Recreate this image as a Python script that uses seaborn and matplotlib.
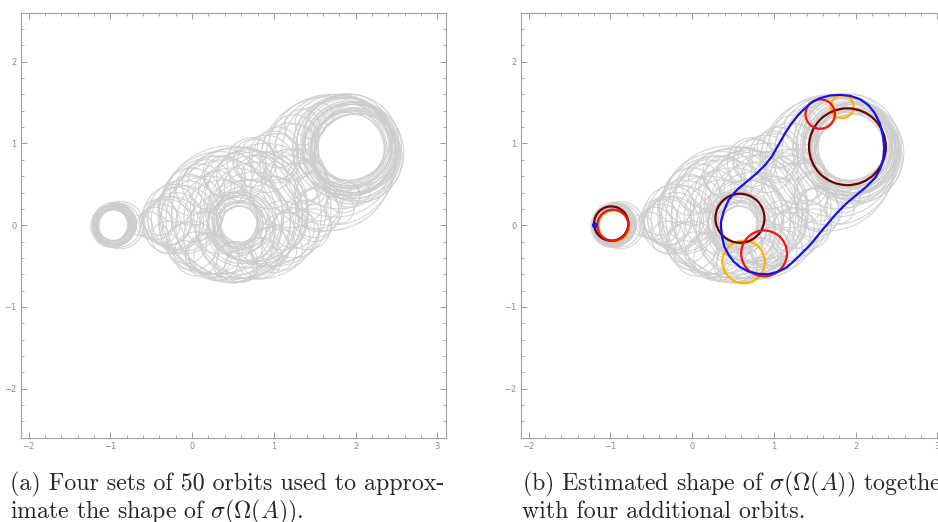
import numpy as np
import pandas as pd
import matplotlib
matplotlib.use("Agg")
import matplotlib.pyplot as plt
from matplotlib.patches import Circle
from matplotlib.ticker import MultipleLocator
import seaborn as sns

# gray orbits, four sets (centre x, centre y, radius)
# set 1: left ring and neck
set1_cx = [-0.965, -0.97, -0.96, -0.98, -0.95, -0.99, -0.94, -0.97, -0.96, -0.95, -0.98, -0.93, -1.0, -0.92,
           -0.9, -0.88, -0.62, -0.52, -0.45, -0.38, -0.3, -0.2, -0.1, -0.3, -0.25, -0.2, -0.1, 0.0,
           -0.4, -0.2, -0.3, 0.1, -0.965, -0.96, -0.97, -0.955, -0.975, -0.96, -0.965, -0.945,
           -0.025, -0.07, 0.18]
set1_cy = [0.0, 0.01, -0.01, 0.02, -0.02, 0.0, 0.01, -0.03, 0.03, 0.0, -0.01, 0.02, 0.01, -0.01,
           0.0, 0.0, 0.0, 0.0, 0.02, 0.02, 0.04, 0.06, 0.08, 0.05, 0.0, 0.1, 0.1, 0.2,
           0.1, 0.25, -0.15, 0.45, 0.0, 0.0, 0.0, 0.01, -0.01, -0.02, 0.02, 0.0,
           0.37, -0.22, 0.5]
set1_r = [0.19, 0.2, 0.21, 0.22, 0.22, 0.23, 0.24, 0.24, 0.25, 0.26, 0.26, 0.25, 0.21, 0.22,
          0.27, 0.29, 0.13, 0.16, 0.2, 0.24, 0.28, 0.34, 0.4, 0.3, 0.35, 0.4, 0.45, 0.4,
          0.22, 0.22, 0.2, 0.3, 0.185, 0.2, 0.23, 0.245, 0.25, 0.235, 0.215, 0.255,
          0.25, 0.25, 0.3]

# set 2: around the middle hole
set2_cx = [0.575, 0.57, 0.59, 0.56, 0.6, 0.55, 0.62, 0.6, 0.65, 0.58, 0.7, 0.75, 0.65, 0.8,
           0.2, 0.3, 0.85, 0.55, 0.0, 1.0, 0.35, 0.2, 0.45, 0.3, 0.6, 0.3, 0.0,
           0.3, 0.35, 0.4, 0.45, 0.55, 0.75, 0.05, 0.6, 0.4,
           0.58, 0.57, 0.59, 0.6, 0.2, 0.51, 0.8, 0.43, 0.73]
set2_cy = [0.01, 0.02, 0.0, 0.04, 0.03, -0.02, 0.05, -0.05, 0.02, -0.1, 0.05, 0.1, -0.05, 0.15,
           -0.35, 0.45, -0.4, -0.45, -0.25, 0.3, 0.1, 0.0, -0.15, -0.4, 0.6, 0.5, 0.35,
           0.12, 0.15, 0.08, 0.15, 0.15, 0.2, -0.35, -0.5, 0.6,
           0.0, 0.03, -0.03, 0.06, -0.37, -0.46, -0.405, 0.63, 0.77]
set2_r = [0.22, 0.25, 0.28, 0.3, 0.33, 0.36, 0.38, 0.42, 0.45, 0.5, 0.5, 0.55, 0.6, 0.62,
          0.25, 0.22, 0.25, 0.25, 0.3, 0.3, 0.45, 0.6, 0.55, 0.28, 0.3, 0.35, 0.35,
          0.72, 0.75, 0.72, 0.82, 0.8, 0.65, 0.27, 0.2, 0.25,
          0.24, 0.27, 0.32, 0.35, 0.28, 0.25, 0.25, 0.3, 0.3]

# set 3: around the right hole
set3_cx = [1.95, 1.94, 1.96, 1.92, 1.98, 1.9, 2.0, 1.95, 1.88, 1.93, 1.97, 1.85, 1.8, 1.75, 1.7, 1.65,
           1.35, 1.55, 1.3, 1.2, 1.85, 2.02, 1.9, 1.82, 2.02, 2.03, 1.9, 1.98, 2.0, 1.45,
           1.93, 1.96, 1.91, 1.99, 1.92, 1.86, 1.58, 2.055]
set3_cy = [0.95, 0.96, 0.94, 0.98, 0.92, 1.0, 0.95, 0.9, 0.96, 1.0, 0.88, 0.95, 0.9, 0.85, 0.8, 0.75,
           1.2, 0.35, 0.6, 0.5, 0.35, 0.98, 0.93, 1.0, 0.85, 0.82, 1.08, 0.9, 0.85, 0.45,
           0.97, 0.93, 0.99, 0.94, 0.93, 0.97, 1.34, 0.404]
set3_r = [0.41, 0.44, 0.47, 0.5, 0.52, 0.55, 0.56, 0.58, 0.6, 0.6, 0.62, 0.62, 0.7, 0.75, 0.8, 0.82,
          0.22, 0.3, 0.34, 0.35, 0.2, 0.5, 0.45, 0.58, 0.52, 0.54, 0.53, 0.53, 0.55, 0.2,
          0.43, 0.49, 0.53, 0.54, 0.57, 0.59, 0.15, 0.12]

# set 4: body between the holes and along the edges
set4_cx = [1.2, 1.0, 0.9, 0.8, 0.7, 0.55, 0.9, 1.2, 1.25, 1.5, 1.1, 1.4, 1.0, 0.95, 1.4, 1.05, 0.7, 0.5,
           1.0, 1.25, 1.45, 0.75, 0.945, 1.245, 1.545, 1.907, 1.1, 1.5, 1.8,
           1.03, 1.27, 1.14, 1.556]
set4_cy = [0.45, 0.2, 0.25, 0.12, 0.2, 0.15, 0.75, 0.9, -0.1, 0.15, 0.0, 0.0, -0.3, 0.55, 0.55, 0.95, 0.75, 0.0,
           0.85, 1.05, 1.25, 0.8, -0.274, -0.034, 0.206, 0.368, -0.3, 0.0, 0.2,
           0.82, 0.99, -0.14, 0.198]
set4_r = [0.48, 0.7, 0.75, 0.78, 0.72, 0.8, 0.35, 0.35, 0.3, 0.3, 0.3, 0.3, 0.28, 0.35, 0.25, 0.25, 0.2, 0.7,
          0.3, 0.3, 0.19, 0.25, 0.25, 0.25, 0.25, 0.15, 0.25, 0.2, 0.18,
          0.3, 0.25, 0.3, 0.28]

# four extra orbits in panel (b)
orbit_colors = ["#ffb300", "#6e0000", "#f01414", "#1414e6"]
orbit_cx = [[-0.96, 0.63, 1.835], [-0.99, 0.585, 1.9], [-0.97, 0.88, 1.567], [-1.19]]
orbit_cy = [[-0.01, -0.45, 1.45], [0.02, 0.085, 0.96], [0.0, -0.345, 1.36], [0.0]]
orbit_r = [[0.19, 0.26, 0.14], [0.21, 0.3, 0.47], [0.19, 0.28, 0.18], [0.022]]

# estimated shape of sigma(Omega(A))
shape_x = [0.353, 0.365, 0.394, 0.447, 0.508, 0.589, 0.691, 0.813, 0.935, 1.056, 1.158, 1.26, 1.341,
           1.443, 1.544, 1.646, 1.768, 1.89, 2.012, 2.134, 2.235, 2.296, 2.337, 2.349, 2.337, 2.296,
           2.235, 2.154, 2.053, 1.93, 1.808, 1.687, 1.565, 1.463, 1.382, 1.3, 1.219, 1.138, 1.056,
           0.975, 0.894, 0.792, 0.67, 0.548, 0.447, 0.386, 0.353, 0.353]
shape_y = [-0.017, -0.139, -0.262, -0.364, -0.445, -0.514, -0.567, -0.596, -0.6, -0.567, -0.514, -0.425,
           -0.343, -0.241, -0.119, 0.004, 0.146, 0.269, 0.371, 0.473, 0.575, 0.677, 0.799, 0.942, 1.085,
           1.248, 1.37, 1.472, 1.542, 1.583, 1.595, 1.587, 1.554, 1.501, 1.432, 1.35, 1.248, 1.126, 0.983,
           0.84, 0.738, 0.636, 0.534, 0.432, 0.31, 0.167, 0.044, -0.017]

x_ticks = [-2, -1, 0, 1, 2, 3]
y_ticks = [-2, -1, 0, 1, 2]

sns.set_style("white")
plt.rcParams["mathtext.fontset"] = "cm"

W, H = 938, 522
fig = plt.figure(figsize=(W / 100, H / 100), dpi=100)
ax_a = fig.add_axes([20 / W, (H - 437.7) / H, 426 / W, 425 / H])
ax_b = fig.add_axes([520 / W, (H - 437.7) / H, 426 / W, 425 / H])

gray_sets = [(set1_cx, set1_cy, set1_r), (set2_cx, set2_cy, set2_r),
             (set3_cx, set3_cy, set3_r), (set4_cx, set4_cy, set4_r)]


def draw_gray(ax):
    for cxs, cys, rs in gray_sets:
        for cx, cy, r in zip(cxs, cys, rs):
            ax.add_patch(Circle((cx, cy), r, fill=False, ec="#cdcdcd", lw=0.8, alpha=0.85))


def style_axes(ax):
    ax.set_xlim(-2.1, 3.1)
    ax.set_ylim(-2.6, 2.6)
    ax.set_aspect("equal", adjustable="box")
    ax.xaxis.set_minor_locator(MultipleLocator(0.2))
    ax.yaxis.set_minor_locator(MultipleLocator(0.2))
    ax.set_xticks(x_ticks)
    ax.set_yticks(y_ticks)
    ax.set_xticklabels([str(t).replace("-", "\u2212") for t in x_ticks])
    ax.set_yticklabels([str(t).replace("-", "\u2212") for t in y_ticks])
    ax.tick_params(which="both", direction="in", top=True, right=True, bottom=True, left=True,
                   color="#999999", labelcolor="#8a8a8a", labelsize=6, pad=3)
    ax.tick_params(which="major", length=4, width=0.7)
    ax.tick_params(which="minor", length=2, width=0.6)
    for s in ax.spines.values():
        s.set_color("#a0a0a0")
        s.set_linewidth(0.8)
    ax.set_xlabel("")
    ax.set_ylabel("")


draw_gray(ax_a)
style_axes(ax_a)

draw_gray(ax_b)
for col, cxs, cys, rs in zip(orbit_colors, orbit_cx, orbit_cy, orbit_r):
    for cx, cy, r in zip(cxs, cys, rs):
        ax_b.add_patch(Circle((cx, cy), r, fill=False, ec=col, lw=1.6, zorder=3))
shape_df = pd.DataFrame({"x": shape_x, "y": shape_y})
sns.lineplot(data=shape_df, x="x", y="y", sort=False, estimator=None, color="#1414e6", lw=1.6, ax=ax_b, zorder=4)
style_axes(ax_b)

cap = dict(fontsize=17.2, family="cmr10", va="center", ha="left")
fig.text(10 / W, (H - 484) / H, "(a) Four sets of 50 orbits used to approx-", **cap)
fig.text(10 / W, (H - 512) / H, r"imate the shape of $\sigma(\Omega(A))$.", **cap)
fig.text(522 / W, (H - 484) / H, r"(b) Estimated shape of $\sigma(\Omega(A))$ together", **cap)
fig.text(522 / W, (H - 512) / H, "with four additional orbits.", **cap)

fig.savefig("out.png", dpi=100)
